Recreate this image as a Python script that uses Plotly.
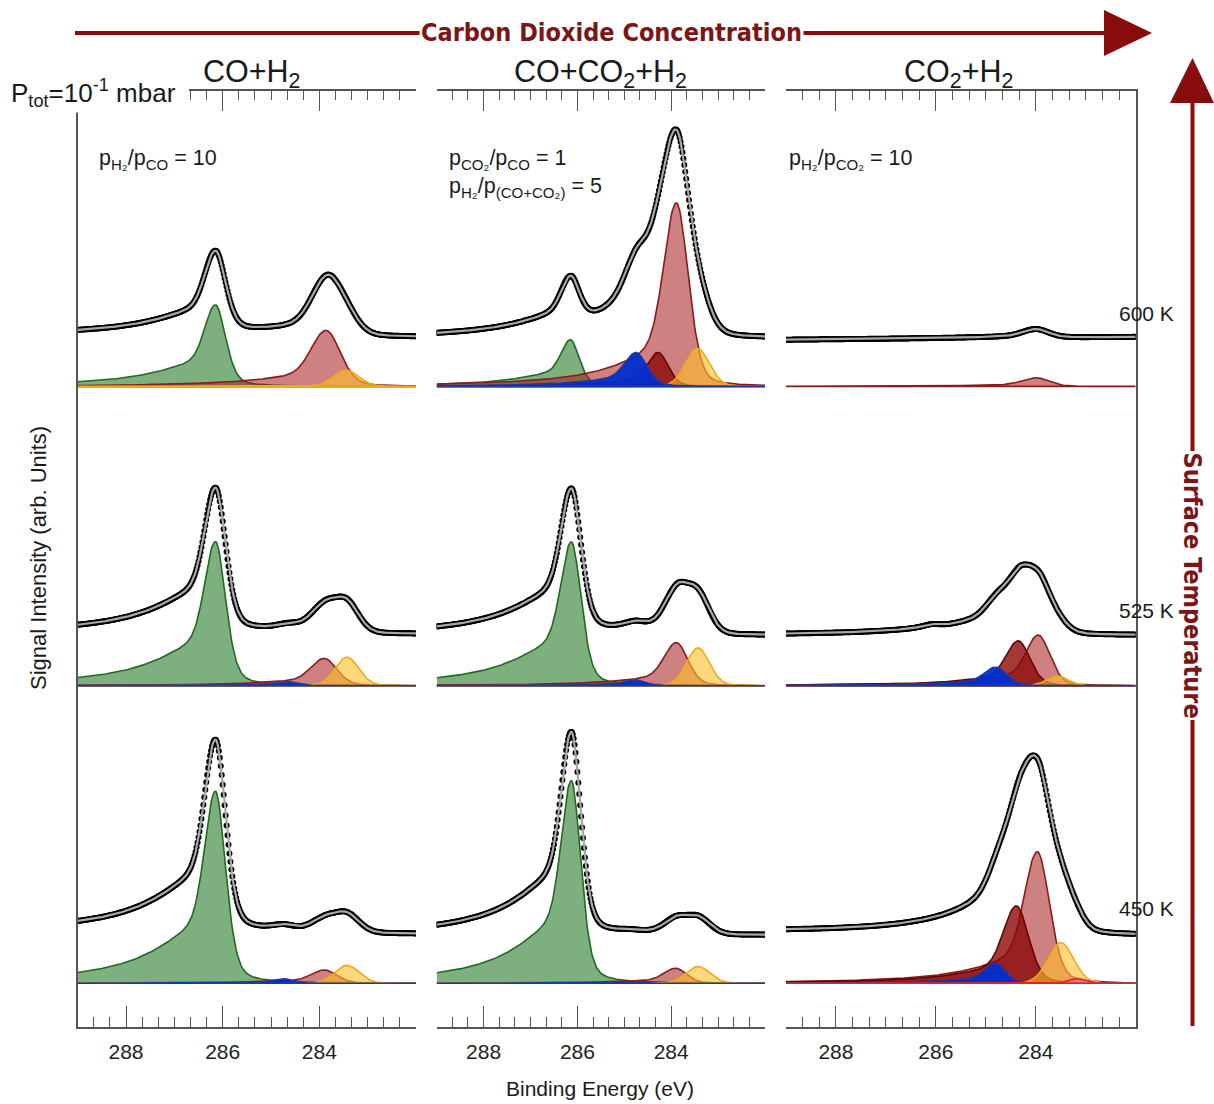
import numpy as np
import plotly.graph_objects as go

W, H = 1214, 1104

# ---------------- data ----------------
panel_titles = ["CO+H<sub>2</sub>", "CO+CO<sub>2</sub>+H<sub>2</sub>", "CO<sub>2</sub>+H<sub>2</sub>"]
temperature_labels = ["600 K", "525 K", "450 K"]
x_tick_values = [288, 286, 284]
x_tick_labels = ["288", "286", "284"]

# fitted components: (species, centre eV, height arb.u., FWHM eV)
co_h2_600 = [("green", 286.15, 81.5, 0.50), ("red", 283.86, 56.0, 0.70), ("yellow", 283.45, 16.3, 0.62)]
co_h2_525 = [("green", 286.15, 144.0, 0.50), ("red", 283.90, 27.3, 0.62), ("yellow", 283.43, 28.5, 0.58),
             ("blue", 284.65, 4.0, 0.50)]
co_h2_450 = [("green", 286.15, 192.0, 0.50), ("red", 283.90, 13.4, 0.60), ("yellow", 283.43, 18.0, 0.60),
             ("blue", 284.75, 4.6, 0.50)]

mix_600 = [("green", 286.15, 46.6, 0.45), ("red", 283.89, 183.5, 0.60), ("darkred", 284.28, 34.0, 0.50),
           ("yellow", 283.44, 37.9, 0.60), ("blue", 284.75, 33.8, 0.55)]
mix_525 = [("green", 286.13, 143.8, 0.50), ("red", 283.89, 43.1, 0.58), ("yellow", 283.43, 37.8, 0.58),
           ("blue", 284.78, 5.8, 0.50)]
mix_450 = [("green", 286.13, 202.6, 0.48), ("red", 283.91, 15.1, 0.55), ("yellow", 283.43, 16.8, 0.60),
           ("blue", 284.90, 1.5, 0.50)]

co2_h2_600 = [("red", 284.00, 8.7, 0.60)]
co2_h2_525 = [("green", 286.10, 3.0, 0.40), ("red", 283.95, 50.6, 0.55), ("darkred", 284.35, 44.8, 0.55),
              ("yellow", 283.57, 9.7, 0.50), ("blue", 284.80, 18.6, 0.50)]
co2_h2_450 = [("red", 283.97, 131.6, 0.58), ("darkred", 284.39, 77.4, 0.58), ("yellow", 283.50, 40.7, 0.60),
              ("blue", 284.81, 20.4, 0.45), ("pink", 283.17, 4.7, 0.40)]

components = [[co_h2_600, co_h2_525, co_h2_450],
              [mix_600, mix_525, mix_450],
              [co2_h2_600, co2_h2_525, co2_h2_450]]

# intensity in the measured envelope not covered by the drawn components: (centre eV, height, FWHM eV)
unassigned_co_h2 = [None, None, None]
unassigned_mix = [(284.45, 20.0, 1.0), None, None]
unassigned_co2_h2 = [None, None, (284.10, 17.0, 1.2)]
unassigned = [unassigned_co_h2, unassigned_mix, unassigned_co2_h2]

# background of the measured spectra above the component baseline (at 289 eV, at 282 eV)
background_co_h2 = [(51.0, 49.5), (52.4, 51.8), (51.3, 49.5)]
background_mix = [(48.0, 48.4), (50.6, 50.6), (47.8, 48.3)]
background_co2_h2 = [(46.6, 49.5), (50.6, 50.6), (51.0, 48.3)]
backgrounds = [background_co_h2, background_mix, background_co2_h2]

# line shape per species: (Lorentzian fraction, high-BE tail stretch)
lineshape = {"green": (0.35, 5.0), "red": (0.25, 4.0), "darkred": (0.25, 4.0),
             "yellow": (0.10, 1.0), "blue": (0.30, 4.0), "pink": (0.0, 1.0)}

# ---------------- styling / layout constants ----------------
styles = {
    "green": dict(fill="rgba(20,110,20,0.55)", line="#1f6b1f"),
    "red": dict(fill="rgba(165,25,25,0.55)", line="#8b1a1a"),
    "darkred": dict(fill="rgba(140,8,8,0.80)", line="#6e0000"),
    "yellow": dict(fill="rgba(255,190,45,0.62)", line="#f2aa12"),
    "blue": dict(fill="rgba(0,45,205,0.95)", line="#1a3aa0"),
    "pink": dict(fill="rgba(255,110,140,0.8)", line="#e0202a"),
}
draw_order = ["green", "red", "darkred", "yellow", "blue", "pink"]
row_baseline = [640.3, 341.0, 43.4]     # vertical stacking offsets of the three temperatures
Y_RANGE = [0, 936.2]
BE_RANGE = [289, 282]
panel_px = [(77.7, 416.0), (436.7, 765.0), (786.0, 1135.7)]
plot_top_px, plot_bot_px = 90.5, 1026.7
FONT = "Liberation Sans, Arial, Helvetica, sans-serif"
NARROW = "Liberation Sans Narrow, Arial Narrow, DejaVu Sans Condensed, sans-serif"
AX = "#555555"
DARKRED = "#880c0c"

be = np.linspace(BE_RANGE[0], BE_RANGE[1], 351)


def component(c, h, w, m, s):
    d = be - c
    g = np.exp(-4 * np.log(2) * (d / w) ** 2)
    wl = np.where(d > 0, w * s, w)
    lo = 1.0 / (1.0 + 4.0 * (d / wl) ** 2)
    return h * ((1 - m) * g + m * lo)


fig = go.Figure()
xa_names = ["x", "x2", "x3"]
ya_names = ["y", "y2", "y3"]

for p in range(3):
    for r in range(3):
        base = row_baseline[r]
        comps = components[p][r]
        total = np.zeros_like(be)
        ordered = sorted(comps, key=lambda c: draw_order.index(c[0]))
        for sp, c, h, w in ordered:
            m, s = lineshape[sp]
            yv = component(c, h, w, m, s)
            total += yv
            fig.add_trace(go.Scatter(
                x=np.concatenate([be, be[::-1]]),
                y=np.concatenate([base + yv, np.full_like(be, base)]),
                mode="lines", fill="toself", fillcolor=styles[sp]["fill"],
                line=dict(color=styles[sp]["line"], width=1.6),
                xaxis=xa_names[p], yaxis=ya_names[p], showlegend=False, hoverinfo="skip"))
        if unassigned[p][r] is not None:
            c, h, w = unassigned[p][r]
            total += component(c, h, w, 0.0, 1.0)
        bg_hi, bg_lo = backgrounds[p][r]
        bg = bg_lo + (bg_hi - bg_lo) * (be - BE_RANGE[1]) / (BE_RANGE[0] - BE_RANGE[1])
        env = base + bg + total
        fig.add_trace(go.Scatter(x=be, y=env, mode="markers",
                                 marker=dict(color="black", size=6),
                                 xaxis=xa_names[p], yaxis=ya_names[p], showlegend=False, hoverinfo="skip"))
        fig.add_trace(go.Scatter(x=be, y=env, mode="lines", line=dict(color="#a8a8a8", width=2.2),
                                 xaxis=xa_names[p], yaxis=ya_names[p], showlegend=False, hoverinfo="skip"))

# empty traces so top axes are drawn
for i in range(3):
    fig.add_trace(go.Scatter(x=[None], y=[None], xaxis="x%d" % (i + 4), yaxis=ya_names[i],
                             showlegend=False, hoverinfo="skip"))

minor_vals = [BE_RANGE[0] - k / 3 for k in range(21) if k not in (3, 9, 15)]
ydom = [1 - plot_bot_px / H, 1 - plot_top_px / H]

layout = dict(width=W, height=H, margin=dict(l=0, r=0, t=0, b=0),
              paper_bgcolor="white", plot_bgcolor="rgba(0,0,0,0)",
              font=dict(family=FONT, color="#222222"))


def xax(dom, side, show_labels, overlay=None, anchor="y"):
    d = dict(range=BE_RANGE, showgrid=False, zeroline=False, showline=True,
             linecolor=AX, linewidth=1.5, ticks="inside", tickvals=x_tick_values,
             ticktext=x_tick_labels, ticklen=21, tickwidth=1.3, tickcolor=AX,
             showticklabels=show_labels, tickfont=dict(size=21, color="#222222", family=FONT),
             ticklabelstandoff=5, side=side, anchor=anchor,
             minor=dict(tickmode="array", tickvals=minor_vals, ticks="inside", ticklen=10,
                        tickwidth=1.3, tickcolor=AX))
    if overlay:
        d["overlaying"] = overlay
    else:
        d["domain"] = dom
    return d


for i in range(3):
    dom = [panel_px[i][0] / W, panel_px[i][1] / W]
    key = "xaxis" if i == 0 else "xaxis%d" % (i + 1)
    layout[key] = xax(dom, "bottom", True, anchor=ya_names[i])
    layout["xaxis%d" % (i + 4)] = xax(dom, "top", False, overlay=xa_names[i], anchor=ya_names[i])
    ykey = "yaxis" if i == 0 else "yaxis%d" % (i + 1)
    layout[ykey] = dict(domain=ydom, range=Y_RANGE, showgrid=False, zeroline=False,
                        showticklabels=False, ticks="", anchor=xa_names[i],
                        showline=(i != 1), linecolor=AX, linewidth=1.5,
                        side="right" if i == 2 else "left")

fig.update_layout(**layout)


def px(x):
    return x / W


def py(y):
    return 1 - y / H


shapes = []
# cover for the top-left corner (P_tot label area)
shapes.append(dict(type="rect", xref="paper", yref="paper", x0=0, x1=px(189), y0=py(112.5), y1=py(80),
                   fillcolor="white", line=dict(width=0), layer="above"))
# horizontal arrow
shapes.append(dict(type="line", xref="paper", yref="paper", x0=px(75), x1=px(1108), y0=py(33), y1=py(33),
                   line=dict(color=DARKRED, width=4), layer="above"))
shapes.append(dict(type="path", xref="paper", yref="paper",
                   path="M %f %f L %f %f L %f %f Z" % (px(1104), py(10), px(1152), py(33), px(1104), py(56)),
                   fillcolor=DARKRED, line=dict(width=0), layer="above"))
# vertical arrow
shapes.append(dict(type="line", xref="paper", yref="paper", x0=px(1192.5), x1=px(1192.5), y0=py(1026), y1=py(100),
                   line=dict(color=DARKRED, width=4), layer="above"))
shapes.append(dict(type="path", xref="paper", yref="paper",
                   path="M %f %f L %f %f L %f %f Z" % (px(1170), py(103), px(1192.5), py(58), px(1214), py(103)),
                   fillcolor=DARKRED, line=dict(width=0), layer="above"))
fig.update_layout(shapes=shapes)

ann = []


def add_text(text, x, y, size, xanchor="center", yanchor="middle", **kw):
    d = dict(text=text, x=px(x), y=py(y), xref="paper", yref="paper", showarrow=False,
             xanchor=xanchor, yanchor=yanchor, font=dict(size=size, family=FONT, color="#1a1a1a"))
    d.update(kw)
    ann.append(d)


title_x = [251, 600, 958]
for i in range(3):
    add_text(panel_titles[i], title_x[i], 73, 30.5)
add_text("P<sub>tot</sub>=10<sup>-1</sup> mbar", 9, 93, 26, xanchor="left")
add_text("p<sub>H₂</sub>/p<sub>CO</sub> = 10", 97, 160, 21.5, xanchor="left")
add_text("p<sub>CO₂</sub>/p<sub>CO</sub> = 1", 447, 160, 21.5, xanchor="left")
add_text("p<sub>H₂</sub>/p<sub>(CO+CO₂)</sub> = 5", 447, 188, 21.5, xanchor="left")
add_text("p<sub>H₂</sub>/p<sub>CO₂</sub> = 10", 787, 160, 21.5, xanchor="left")
temp_y = [313, 610, 908]
for t, yv in zip(temperature_labels, temp_y):
    add_text(t, 1146, yv, 21)
add_text("Signal Intensity (arb. Units)", 38, 558, 22, textangle=-90)
add_text("Binding Energy (eV)", 600, 1088, 21)
ann.append(dict(text="<b>Carbon Dioxide Concentration</b>", x=px(611), y=py(33), xref="paper", yref="paper",
                showarrow=False, xanchor="center", yanchor="middle", bgcolor="white", borderpad=1,
                font=dict(size=25, family=NARROW, color="#7c1515")))
ann.append(dict(text="<b>Surface Temperature</b>", x=px(1192.5), y=py(585), xref="paper", yref="paper",
                showarrow=False, xanchor="center", yanchor="middle", bgcolor="white", borderpad=1,
                textangle=90, font=dict(size=25, family=NARROW, color="#7c1515")))
fig.update_layout(annotations=ann)

fig.write_html("out.html")
